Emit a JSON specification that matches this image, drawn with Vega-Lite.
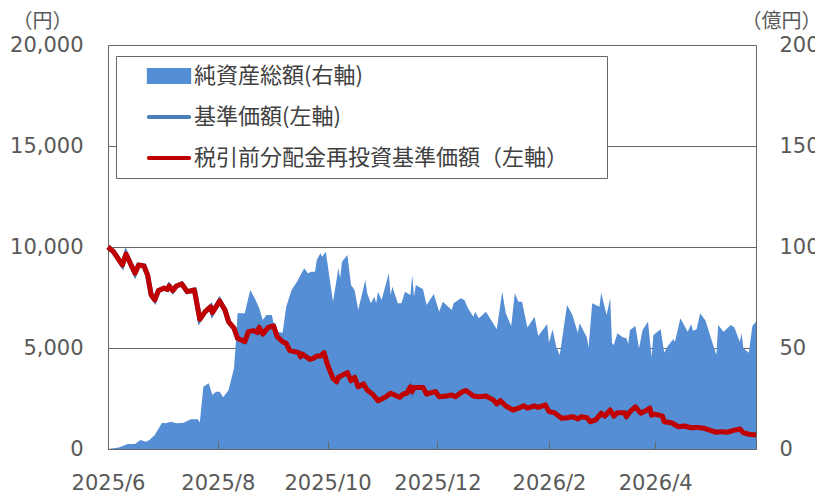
{
  "$schema": "https://vega.github.io/schema/vega-lite/v6.json",
  "width": 648,
  "height": 404,
  "autosize": {"type": "none"},
  "padding": {"left": 108, "top": 45, "right": 59, "bottom": 45},
  "background": "white",
  "config": {"view": {"stroke": null}},
  "datasets": {
    "aum": [
      {"date": "2025-06-01", "aum": 0},
      {"date": "2025-06-07", "aum": 0.8},
      {"date": "2025-06-12", "aum": 2.5},
      {"date": "2025-06-16", "aum": 2.5},
      {"date": "2025-06-19", "aum": 4.5},
      {"date": "2025-06-22", "aum": 3.6},
      {"date": "2025-06-24", "aum": 4.5},
      {"date": "2025-06-27", "aum": 6.9},
      {"date": "2025-07-01", "aum": 13.0},
      {"date": "2025-07-03", "aum": 12.7},
      {"date": "2025-07-06", "aum": 13.5},
      {"date": "2025-07-09", "aum": 12.7},
      {"date": "2025-07-13", "aum": 13.0},
      {"date": "2025-07-17", "aum": 14.7},
      {"date": "2025-07-21", "aum": 14.7},
      {"date": "2025-07-22", "aum": 13.0},
      {"date": "2025-07-24", "aum": 30.8},
      {"date": "2025-07-27", "aum": 32.5},
      {"date": "2025-07-29", "aum": 26.7},
      {"date": "2025-07-31", "aum": 28.4},
      {"date": "2025-08-02", "aum": 28.4},
      {"date": "2025-08-04", "aum": 25.6},
      {"date": "2025-08-07", "aum": 29.2},
      {"date": "2025-08-10", "aum": 40.0},
      {"date": "2025-08-11", "aum": 52.3},
      {"date": "2025-08-12", "aum": 67.2},
      {"date": "2025-08-16", "aum": 67.2},
      {"date": "2025-08-19", "aum": 78.7},
      {"date": "2025-08-22", "aum": 73.8},
      {"date": "2025-08-24", "aum": 69.7},
      {"date": "2025-08-26", "aum": 63.9},
      {"date": "2025-08-28", "aum": 66.3},
      {"date": "2025-08-31", "aum": 66.3},
      {"date": "2025-09-01", "aum": 62.2},
      {"date": "2025-09-03", "aum": 58.1},
      {"date": "2025-09-06", "aum": 57.6},
      {"date": "2025-09-08", "aum": 70.4},
      {"date": "2025-09-11", "aum": 78.7},
      {"date": "2025-09-14", "aum": 82.8},
      {"date": "2025-09-16", "aum": 86.1},
      {"date": "2025-09-18", "aum": 89.5},
      {"date": "2025-09-20", "aum": 87.0},
      {"date": "2025-09-22", "aum": 87.8},
      {"date": "2025-09-24", "aum": 87.8},
      {"date": "2025-09-25", "aum": 93.6},
      {"date": "2025-09-27", "aum": 96.9},
      {"date": "2025-09-28", "aum": 95.2},
      {"date": "2025-09-30", "aum": 97.7},
      {"date": "2025-10-02", "aum": 85.3},
      {"date": "2025-10-04", "aum": 72.9},
      {"date": "2025-10-07", "aum": 89.5},
      {"date": "2025-10-08", "aum": 84.5},
      {"date": "2025-10-09", "aum": 92.7},
      {"date": "2025-10-12", "aum": 96.0},
      {"date": "2025-10-14", "aum": 81.2},
      {"date": "2025-10-16", "aum": 78.7},
      {"date": "2025-10-18", "aum": 68.8},
      {"date": "2025-10-22", "aum": 83.7},
      {"date": "2025-10-23", "aum": 77.1},
      {"date": "2025-10-25", "aum": 72.1},
      {"date": "2025-10-27", "aum": 75.4},
      {"date": "2025-10-28", "aum": 72.1},
      {"date": "2025-10-29", "aum": 77.9},
      {"date": "2025-10-31", "aum": 73.8},
      {"date": "2025-11-04", "aum": 87.0},
      {"date": "2025-11-05", "aum": 76.2},
      {"date": "2025-11-06", "aum": 80.3},
      {"date": "2025-11-09", "aum": 72.1},
      {"date": "2025-11-11", "aum": 72.1},
      {"date": "2025-11-13", "aum": 77.9},
      {"date": "2025-11-16", "aum": 76.2},
      {"date": "2025-11-17", "aum": 86.1},
      {"date": "2025-11-18", "aum": 75.4},
      {"date": "2025-11-19", "aum": 81.2},
      {"date": "2025-11-23", "aum": 79.1},
      {"date": "2025-11-25", "aum": 71.3},
      {"date": "2025-11-28", "aum": 75.4},
      {"date": "2025-11-29", "aum": 76.7},
      {"date": "2025-12-02", "aum": 68.0},
      {"date": "2025-12-04", "aum": 72.9},
      {"date": "2025-12-07", "aum": 70.4},
      {"date": "2025-12-09", "aum": 68.8},
      {"date": "2025-12-10", "aum": 72.1},
      {"date": "2025-12-14", "aum": 74.6},
      {"date": "2025-12-16", "aum": 73.8},
      {"date": "2025-12-18", "aum": 69.7},
      {"date": "2025-12-21", "aum": 65.5},
      {"date": "2025-12-22", "aum": 68.0},
      {"date": "2025-12-24", "aum": 64.7},
      {"date": "2025-12-28", "aum": 68.0},
      {"date": "2026-01-03", "aum": 59.3},
      {"date": "2026-01-06", "aum": 77.9},
      {"date": "2026-01-08", "aum": 67.2},
      {"date": "2026-01-11", "aum": 60.9},
      {"date": "2026-01-13", "aum": 77.1},
      {"date": "2026-01-15", "aum": 72.9},
      {"date": "2026-01-17", "aum": 72.9},
      {"date": "2026-01-20", "aum": 60.2},
      {"date": "2026-01-24", "aum": 65.5},
      {"date": "2026-01-26", "aum": 55.9},
      {"date": "2026-01-31", "aum": 61.9},
      {"date": "2026-02-01", "aum": 52.6},
      {"date": "2026-02-03", "aum": 59.3},
      {"date": "2026-02-05", "aum": 50.6},
      {"date": "2026-02-07", "aum": 46.5},
      {"date": "2026-02-11", "aum": 71.3},
      {"date": "2026-02-14", "aum": 66.3},
      {"date": "2026-02-17", "aum": 57.6},
      {"date": "2026-02-18", "aum": 62.2},
      {"date": "2026-02-22", "aum": 55.3},
      {"date": "2026-02-23", "aum": 50.3},
      {"date": "2026-02-25", "aum": 72.1},
      {"date": "2026-02-27", "aum": 71.3},
      {"date": "2026-03-01", "aum": 70.4},
      {"date": "2026-03-02", "aum": 77.4},
      {"date": "2026-03-05", "aum": 66.3},
      {"date": "2026-03-07", "aum": 74.6},
      {"date": "2026-03-08", "aum": 52.3},
      {"date": "2026-03-09", "aum": 51.5},
      {"date": "2026-03-11", "aum": 57.3},
      {"date": "2026-03-14", "aum": 55.3},
      {"date": "2026-03-16", "aum": 54.8},
      {"date": "2026-03-17", "aum": 52.0},
      {"date": "2026-03-18", "aum": 58.9},
      {"date": "2026-03-21", "aum": 60.9},
      {"date": "2026-03-23", "aum": 49.9},
      {"date": "2026-03-25", "aum": 58.9},
      {"date": "2026-03-28", "aum": 63.0},
      {"date": "2026-03-30", "aum": 45.4},
      {"date": "2026-03-31", "aum": 56.4},
      {"date": "2026-04-04", "aum": 59.3},
      {"date": "2026-04-06", "aum": 47.7},
      {"date": "2026-04-08", "aum": 51.0},
      {"date": "2026-04-11", "aum": 54.3},
      {"date": "2026-04-12", "aum": 53.1},
      {"date": "2026-04-15", "aum": 64.7},
      {"date": "2026-04-18", "aum": 59.8},
      {"date": "2026-04-19", "aum": 58.1},
      {"date": "2026-04-21", "aum": 61.9},
      {"date": "2026-04-22", "aum": 58.6},
      {"date": "2026-04-24", "aum": 59.3},
      {"date": "2026-04-26", "aum": 67.2},
      {"date": "2026-04-29", "aum": 63.5},
      {"date": "2026-05-02", "aum": 54.8},
      {"date": "2026-05-05", "aum": 46.5},
      {"date": "2026-05-06", "aum": 61.4},
      {"date": "2026-05-09", "aum": 58.1},
      {"date": "2026-05-13", "aum": 61.4},
      {"date": "2026-05-15", "aum": 60.2},
      {"date": "2026-05-18", "aum": 53.1},
      {"date": "2026-05-19", "aum": 57.3},
      {"date": "2026-05-20", "aum": 49.9},
      {"date": "2026-05-23", "aum": 47.7},
      {"date": "2026-05-25", "aum": 60.9},
      {"date": "2026-05-27", "aum": 63.0}
    ],
    "nav": [
      {"date": "2025-06-01", "nav": 10000},
      {"date": "2025-06-04", "nav": 9770},
      {"date": "2025-06-09", "nav": 9110},
      {"date": "2025-06-11", "nav": 9650},
      {"date": "2025-06-16", "nav": 8700},
      {"date": "2025-06-18", "nav": 9110},
      {"date": "2025-06-21", "nav": 9060},
      {"date": "2025-06-23", "nav": 8610},
      {"date": "2025-06-25", "nav": 7620},
      {"date": "2025-06-27", "nav": 7380},
      {"date": "2025-06-29", "nav": 7840},
      {"date": "2025-07-02", "nav": 7960},
      {"date": "2025-07-04", "nav": 7900},
      {"date": "2025-07-05", "nav": 8070},
      {"date": "2025-07-07", "nav": 7840},
      {"date": "2025-07-09", "nav": 8070},
      {"date": "2025-07-12", "nav": 8170},
      {"date": "2025-07-15", "nav": 7790},
      {"date": "2025-07-19", "nav": 7870},
      {"date": "2025-07-22", "nav": 6420},
      {"date": "2025-07-25", "nav": 6800},
      {"date": "2025-07-28", "nav": 7040},
      {"date": "2025-07-29", "nav": 6750},
      {"date": "2025-08-02", "nav": 7330},
      {"date": "2025-08-05", "nav": 6880},
      {"date": "2025-08-07", "nav": 6300},
      {"date": "2025-08-10", "nav": 5980},
      {"date": "2025-08-11", "nav": 5730},
      {"date": "2025-08-12", "nav": 5480},
      {"date": "2025-08-16", "nav": 5310},
      {"date": "2025-08-18", "nav": 5810},
      {"date": "2025-08-21", "nav": 5860},
      {"date": "2025-08-23", "nav": 5760},
      {"date": "2025-08-24", "nav": 6020},
      {"date": "2025-08-26", "nav": 5690},
      {"date": "2025-08-29", "nav": 6020},
      {"date": "2025-09-01", "nav": 6090},
      {"date": "2025-09-03", "nav": 5560},
      {"date": "2025-09-06", "nav": 5310},
      {"date": "2025-09-08", "nav": 5230},
      {"date": "2025-09-10", "nav": 4870},
      {"date": "2025-09-15", "nav": 4770},
      {"date": "2025-09-16", "nav": 4570},
      {"date": "2025-09-17", "nav": 4700},
      {"date": "2025-09-21", "nav": 4440},
      {"date": "2025-09-23", "nav": 4490},
      {"date": "2025-09-25", "nav": 4600},
      {"date": "2025-09-27", "nav": 4600},
      {"date": "2025-09-29", "nav": 4770},
      {"date": "2025-10-01", "nav": 4160},
      {"date": "2025-10-04", "nav": 3500},
      {"date": "2025-10-06", "nav": 3330},
      {"date": "2025-10-07", "nav": 3550},
      {"date": "2025-10-12", "nav": 3780},
      {"date": "2025-10-14", "nav": 3380},
      {"date": "2025-10-16", "nav": 3550},
      {"date": "2025-10-18", "nav": 3080},
      {"date": "2025-10-21", "nav": 3220},
      {"date": "2025-10-23", "nav": 2920},
      {"date": "2025-10-26", "nav": 2710},
      {"date": "2025-10-29", "nav": 2390},
      {"date": "2025-11-02", "nav": 2560},
      {"date": "2025-11-05", "nav": 2760},
      {"date": "2025-11-10", "nav": 2560},
      {"date": "2025-11-12", "nav": 2720},
      {"date": "2025-11-14", "nav": 2760},
      {"date": "2025-11-16", "nav": 3080},
      {"date": "2025-11-17", "nav": 2840},
      {"date": "2025-11-18", "nav": 3050},
      {"date": "2025-11-23", "nav": 3050},
      {"date": "2025-11-25", "nav": 2720},
      {"date": "2025-11-28", "nav": 2800},
      {"date": "2025-11-30", "nav": 2840},
      {"date": "2025-12-02", "nav": 2590},
      {"date": "2025-12-06", "nav": 2620},
      {"date": "2025-12-09", "nav": 2670},
      {"date": "2025-12-11", "nav": 2590},
      {"date": "2025-12-15", "nav": 2840},
      {"date": "2025-12-17", "nav": 2890},
      {"date": "2025-12-21", "nav": 2620},
      {"date": "2025-12-24", "nav": 2590},
      {"date": "2025-12-28", "nav": 2620},
      {"date": "2026-01-01", "nav": 2430},
      {"date": "2026-01-03", "nav": 2230},
      {"date": "2026-01-05", "nav": 2390},
      {"date": "2026-01-08", "nav": 2130},
      {"date": "2026-01-12", "nav": 1930},
      {"date": "2026-01-15", "nav": 2020},
      {"date": "2026-01-18", "nav": 2140},
      {"date": "2026-01-20", "nav": 2020},
      {"date": "2026-01-24", "nav": 2130},
      {"date": "2026-01-26", "nav": 2060},
      {"date": "2026-01-30", "nav": 2180},
      {"date": "2026-02-01", "nav": 1850},
      {"date": "2026-02-04", "nav": 1800},
      {"date": "2026-02-08", "nav": 1520},
      {"date": "2026-02-11", "nav": 1550},
      {"date": "2026-02-14", "nav": 1600},
      {"date": "2026-02-17", "nav": 1490},
      {"date": "2026-02-19", "nav": 1600},
      {"date": "2026-02-22", "nav": 1550},
      {"date": "2026-02-24", "nav": 1350},
      {"date": "2026-02-27", "nav": 1440},
      {"date": "2026-03-02", "nav": 1770},
      {"date": "2026-03-04", "nav": 1630},
      {"date": "2026-03-07", "nav": 1930},
      {"date": "2026-03-09", "nav": 1630},
      {"date": "2026-03-11", "nav": 1800},
      {"date": "2026-03-15", "nav": 1800},
      {"date": "2026-03-16", "nav": 1600},
      {"date": "2026-03-18", "nav": 1850},
      {"date": "2026-03-21", "nav": 2090},
      {"date": "2026-03-24", "nav": 1770},
      {"date": "2026-03-27", "nav": 1900},
      {"date": "2026-03-29", "nav": 2020},
      {"date": "2026-03-30", "nav": 1680},
      {"date": "2026-04-01", "nav": 1730},
      {"date": "2026-04-05", "nav": 1630},
      {"date": "2026-04-06", "nav": 1350},
      {"date": "2026-04-10", "nav": 1300},
      {"date": "2026-04-14", "nav": 1100},
      {"date": "2026-04-17", "nav": 1140},
      {"date": "2026-04-21", "nav": 1050},
      {"date": "2026-04-24", "nav": 1070},
      {"date": "2026-04-28", "nav": 1030},
      {"date": "2026-05-02", "nav": 910},
      {"date": "2026-05-05", "nav": 830},
      {"date": "2026-05-08", "nav": 860},
      {"date": "2026-05-11", "nav": 830},
      {"date": "2026-05-14", "nav": 910},
      {"date": "2026-05-18", "nav": 990},
      {"date": "2026-05-20", "nav": 810},
      {"date": "2026-05-23", "nav": 730},
      {"date": "2026-05-27", "nav": 690}
    ]
  },
  "encoding": {
    "x": {
      "field": "date",
      "type": "temporal",
      "scale": {
        "type": "utc",
        "domain": [
          {"year": 2025, "month": 6, "date": 1, "utc": true},
          {"year": 2026, "month": 5, "date": 27, "utc": true}
        ]
      },
      "axis": {
        "values": [
          {"year": 2025, "month": 6, "date": 1, "utc": true},
          {"year": 2025, "month": 8, "date": 1, "utc": true},
          {"year": 2025, "month": 10, "date": 1, "utc": true},
          {"year": 2025, "month": 12, "date": 1, "utc": true},
          {"year": 2026, "month": 2, "date": 1, "utc": true},
          {"year": 2026, "month": 4, "date": 1, "utc": true}
        ],
        "format": "%Y/%-m",
        "title": null,
        "grid": false,
        "ticks": true,
        "tickSize": -8,
        "tickColor": "#666666",
        "tickWidth": 1,
        "domainColor": "#666666",
        "domainWidth": 1,
        "labelPadding": 31,
        "labelFont": "DejaVu Sans",
        "labelFontSize": 21,
        "labelColor": "#595959",
        "labelFlush": false,
        "labelOverlap": false,
        "zindex": 1
      }
    }
  },
  "layer": [
    {
      "data": {"name": "aum"},
      "mark": {"type": "area", "interpolate": "linear"},
      "encoding": {
        "y": {
          "field": "aum",
          "type": "quantitative",
          "scale": {"domain": [0, 200], "nice": false, "zero": true},
          "axis": {
            "orient": "right",
            "values": [0, 50, 100, 150, 200],
            "ticks": false,
            "grid": false,
            "domainColor": "#666666",
            "labelPadding": 23,
            "labelFont": "DejaVu Sans",
            "labelFontSize": 21,
            "labelColor": "#595959",
            "labelAlign": "left",
            "labelBaseline": "middle",
            "title": "（億円）",
            "titleAngle": 0,
            "titleX": 25,
            "titleY": -24,
            "titleAlign": "center",
            "titleBaseline": "middle",
            "titleFont": "Noto Sans CJK JP",
            "titleFontSize": 20,
            "titleFontWeight": "normal",
            "titleColor": "#595959",
            "zindex": 1
          }
        },
        "color": {
          "datum": "純資産総額(右軸)",
          "scale": {
            "domain": ["純資産総額(右軸)", "基準価額(左軸)", "税引前分配金再投資基準価額（左軸）"],
            "range": ["#558ed5", "#4a7ebb", "#c00000"]
          },
          "legend": {
            "orient": "none",
            "legendX": 8,
            "legendY": 11,
            "title": " ",
            "titleOrient": "right",
            "titlePadding": 39,
            "titleFont": "DejaVu Sans",
            "titleFontSize": 21,
            "padding": 0,
            "strokeColor": "#666666",
            "fillColor": "white",
            "cornerRadius": 0,
            "symbolSize": 1296,
            "symbolStrokeWidth": 4,
            "symbolOffset": 33,
            "labelOffset": 5,
            "clipHeight": 40,
            "rowPadding": 1,
            "labelFont": "Noto Sans CJK JP",
            "labelFontSize": 22,
            "labelColor": "#404040",
            "labelLimit": 0,
            "encode": {
              "symbols": {
                "update": {
                  "shape": {"signal": "datum.value === '純資産総額(右軸)' ? 'M-1.12,-0.33H1.12V0.33H-1.12Z' : 'M-1.12,0H1.12'"},
                  "fill": {"signal": "datum.value === '純資産総額(右軸)' ? '#558ed5' : 'transparent'"},
                  "stroke": {"signal": "datum.value === '純資産総額(右軸)' ? 'transparent' : (datum.value === '基準価額(左軸)' ? '#4a7ebb' : '#c00000')"},
                  "strokeWidth": {"value": 4},
                  "strokeCap": {"value": "round"},
                  "opacity": {"value": 1}
                }
              }
            }
          }
        }
      }
    },
    {
      "data": {"name": "nav"},
      "encoding": {
        "y": {
          "field": "nav",
          "type": "quantitative",
          "scale": {"domain": [0, 20000], "nice": false},
          "axis": {
            "orient": "left",
            "values": [0, 5000, 10000, 15000, 20000],
            "format": ",d",
            "ticks": false,
            "grid": true,
            "gridColor": "#666666",
            "gridWidth": 1,
            "domainColor": "#666666",
            "labelPadding": 25,
            "labelFont": "DejaVu Sans",
            "labelFontSize": 21,
            "labelColor": "#595959",
            "labelBaseline": "middle",
            "title": "（円）",
            "titleAngle": 0,
            "titleX": -66,
            "titleY": -24,
            "titleAlign": "center",
            "titleBaseline": "middle",
            "titleFont": "Noto Sans CJK JP",
            "titleFontSize": 20,
            "titleFontWeight": "normal",
            "titleColor": "#595959",
            "zindex": 0
          }
        }
      },
      "layer": [
        {
          "mark": {"type": "line", "strokeWidth": 5, "interpolate": "linear"},
          "encoding": {"color": {"datum": "基準価額(左軸)"}}
        },
        {
          "mark": {"type": "line", "strokeWidth": 5, "interpolate": "linear", "strokeJoin": "round"},
          "encoding": {"color": {"datum": "税引前分配金再投資基準価額（左軸）"}}
        }
      ]
    }
  ],
  "resolve": {"scale": {"y": "independent"}}
}
